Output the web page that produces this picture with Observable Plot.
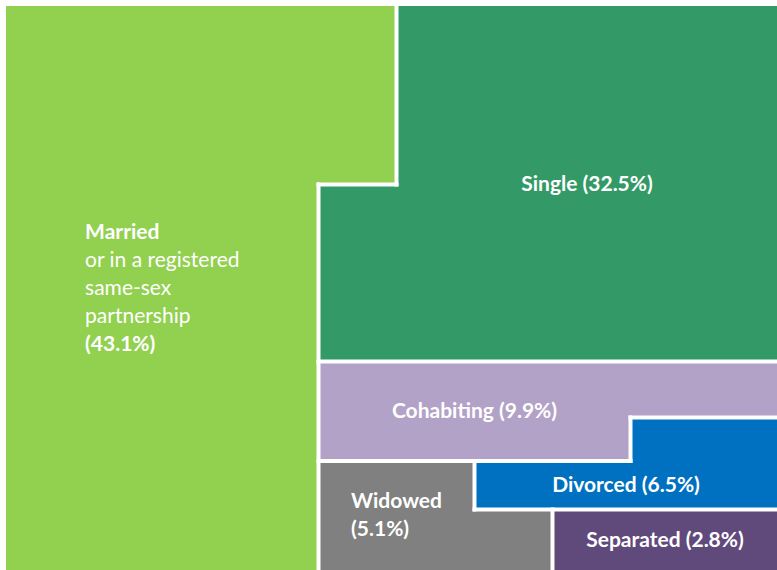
<!DOCTYPE html>
<html><head><meta charset="utf-8">
<script src="https://cdn.jsdelivr.net/npm/d3@7"></script>
<script src="https://cdn.jsdelivr.net/npm/@observablehq/plot@0.6"></script>
<style>html,body{margin:0;padding:0;background:#fff;overflow:hidden}</style>
</head><body><div id="chart"></div>
<script>
// ---- data ----
const categories = ["Married", "Single", "Cohabiting", "Divorced", "Widowed", "Separated"];
const shares = [43.1, 32.5, 9.9, 6.5, 5.1, 2.8];
const notes = ["or in a registered\nsame-sex\npartnership", "", "", "", "", ""];
const palette = ["#92D050", "#339966", "#B3A2C7", "#0070C0", "#808080", "#604A7B"];

// ---- layout: 10 x 10 waffle ----
const W = 777, H = 570;
const nCols = 10, nRows = 10, nCells = nCols * nRows;
const total = d3.sum(shares);
const raw = shares.map(v => v / total * nCells);
const counts = raw.map(Math.floor);
let left = nCells - d3.sum(counts);
d3.range(raw.length).sort((a, b) => (raw[b] - counts[b]) - (raw[a] - counts[a]))
  .forEach(i => { if (left > 0) { counts[i]++; left--; } });

const grid = d3.range(nRows).map(() => new Array(nCols).fill(-1));
// first category fills column by column
let k = 0;
for (let c = 0; c < nCols; c++) for (let r = 0; r < nRows; r++) {
  if (k < counts[0]) { grid[r][c] = 0; k++; }
}
// remaining categories fill the free cells row by row (serpentine)
const order = [];
for (let r = 0; r < nRows; r++) {
  const cs = d3.range(nCols); if (r % 2 === 0) cs.reverse();
  for (const c of cs) if (grid[r][c] === -1) order.push([r, c]);
}
let p = 0;
for (let i = 1; i < categories.length; i++)
  for (let j = 0; j < counts[i] && p < order.length; j++, p++) grid[order[p][0]][order[p][1]] = i;

// merge cells into blocks: runs per row, then stack identical runs
const blocks = [];
let open = new Map();
for (let r = 0; r < nRows; r++) {
  const next = new Map();
  let c = 0;
  while (c < nCols) {
    const g = grid[r][c]; let c1 = c;
    while (c1 + 1 < nCols && grid[r][c1 + 1] === g) c1++;
    const key = `${c}-${c1}-${g}`;
    let b = open.get(key);
    if (b) b.r1 = r; else { b = {c0: c, c1, r0: r, r1: r, cat: categories[g]}; blocks.push(b); }
    next.set(key, b);
    c = c1 + 1;
  }
  open = next;
}

// boundaries between different categories, merged into long segments
const vSegs = [], hSegs = [];
for (let x = 1; x < nCols; x++) {
  let start = null;
  for (let r = 0; r <= nRows; r++) {
    const diff = r < nRows && grid[r][x - 1] !== grid[r][x];
    if (diff && start === null) start = r;
    if (!diff && start !== null) { vSegs.push({x1: x, x2: x, y1: start, y2: r}); start = null; }
  }
}
for (let y = 1; y < nRows; y++) {
  let start = null;
  for (let c = 0; c <= nCols; c++) {
    const diff = c < nCols && grid[y - 1][c] !== grid[y][c];
    if (diff && start === null) start = c;
    if (!diff && start !== null) { hSegs.push({x1: start, x2: c, y1: y, y2: y}); start = null; }
  }
}
const edges = vSegs.concat(hSegs);

// scales
const xOpts = {type: "linear", domain: [0, nCols], range: [6, 786], axis: null};
const yOpts = {type: "linear", domain: [0, 3, 6, 7, 8, 9, 10], range: [6, 184, 361, 417, 460.5, 509, 572], axis: null};
const xs = Plot.scale({x: xOpts}), ys = Plot.scale({y: yOpts});

// label anchors: centre of each category's largest rectangle of cells
function largestRect(i) {
  let best = null;
  for (let r0 = 0; r0 < nRows; r0++) for (let r1 = r0; r1 < nRows; r1++)
    for (let c0 = 0; c0 < nCols; c0++) for (let c1 = c0; c1 < nCols; c1++) {
      let ok = true;
      for (let r = r0; r <= r1 && ok; r++) for (let c = c0; c <= c1; c++) if (grid[r][c] !== i) { ok = false; break; }
      if (!ok) break;
      const w = c1 - c0 + 1, h = r1 - r0 + 1, a = w * h;
      if (!best || a > best.a || (a === best.a && w > best.w)) best = {r0, r1, c0, c1, a, w};
    }
  return best;
}
const ctx = document.createElement("canvas").getContext("2d");
const FS = 21, LH = 28, FONT = "Lato";
const measure = (s, bold) => { ctx.font = `${bold ? "bold" : "normal"} ${FS}px ${FONT}`; return ctx.measureText(s).width; };
const fmt = d3.format(".1f");

const textMarks = [];
categories.forEach((name, i) => {
  const b = largestRect(i);
  const px0 = xs.apply(b.c0), px1 = Math.min(xs.apply(b.c1 + 1), W);
  const py0 = ys.apply(b.r0), py1 = Math.min(ys.apply(b.r1 + 1), H);
  const cx = xs.invert((px0 + px1) / 2), cy = ys.invert((py0 + py1) / 2);
  const pct = `(${fmt(shares[i])}%)`;
  let lines;
  if (notes[i]) lines = [[name, true], ...notes[i].split("\n").map(s => [s, false]), [pct, true]];
  else {
    const one = `${name} ${pct}`;
    lines = measure(one, true) <= 0.8 * (px1 - px0) ? [[one, true]] : [[name, true], [pct, true]];
  }
  const multi = lines.length > 1;
  const maxW = d3.max(lines, ([s, bold]) => measure(s, bold));
  lines.forEach(([s, bold], j) => {
    textMarks.push(Plot.text([{x: cx, y: cy, t: s}], {
      x: "x", y: "y", text: "t", fill: "white", fontSize: FS, fontFamily: FONT,
      fontWeight: bold ? "bold" : "normal", textAnchor: multi ? "start" : "middle",
      lineAnchor: "middle", dx: multi ? -maxW / 2 : 0, dy: (j - (lines.length - 1) / 2) * LH
    }));
  });
});

const chart = Plot.plot({
  width: W, height: H, margin: 0,
  x: xOpts, y: yOpts,
  color: {domain: categories, range: palette},
  style: {fontFamily: FONT, background: "white", overflow: "hidden"},
  marks: [
    Plot.rect(blocks, {x1: "c0", x2: d => d.c1 + 1, y1: "r0", y2: d => d.r1 + 1, fill: "cat", shapeRendering: "crispEdges"}),
    Plot.link(edges, {x1: "x1", y1: "y1", x2: "x2", y2: "y2", stroke: "white", strokeWidth: 4, strokeLinecap: "square"}),
    ...textMarks
  ]
});
document.getElementById("chart").appendChild(chart);
</script>
</body></html>
